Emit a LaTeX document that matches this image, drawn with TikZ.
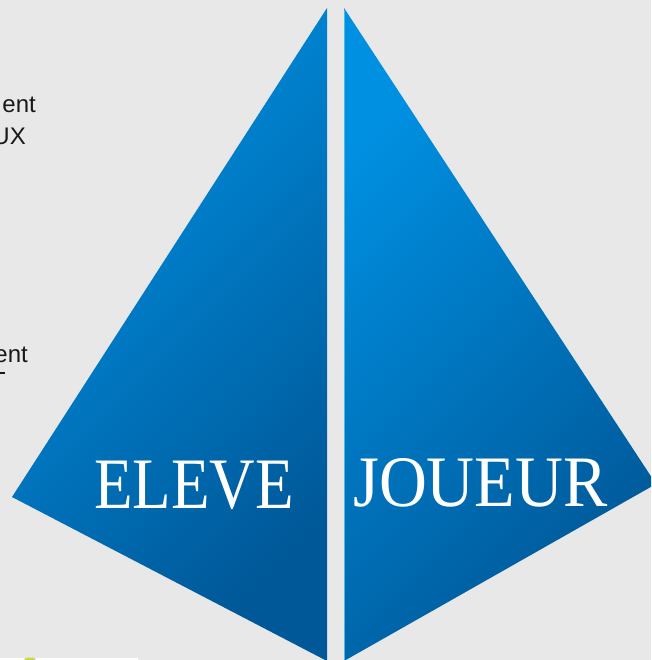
\documentclass[tikz,border=0pt]{standalone}
\usepackage{fontspec}
\setmainfont{Liberation Serif}
\newfontfamily\sansfnt{Liberation Sans}
\definecolor{bgcol}{RGB}{232,232,232}
\definecolor{triTop}{RGB}{0,144,226}
\definecolor{triBot}{RGB}{0,88,152}
\definecolor{edgecyan}{RGB}{70,190,225}
\definecolor{blobcol}{RGB}{200,220,60}
\definecolor{txtcol}{RGB}{25,25,25}
\tikzset{
  tri/.style={top color=triTop, bottom color=triBot, shading angle=45},
  bigword/.style={text=white, inner sep=0pt, font=\fontsize{72.5}{80}\selectfont},
  sidetxt/.style={text=txtcol, inner sep=0pt, font=\sansfnt\fontsize{24}{28}\selectfont},
}
\begin{document}
\begin{tikzpicture}[x=1pt,y=-1pt]
\useasboundingbox (0,0) rectangle (651,660);
\clip (0,0) rectangle (651,660);
\fill[bgcol] (0,0) rectangle (651,660);
% side texts (cut at the left edge, as in the reference)
\node[sidetxt, anchor=base east] (t1) at (36,113) {ent};
\node[sidetxt, anchor=base east] (t2) at (26,145) {UX};
\node[sidetxt, anchor=base east] (t3) at (28,362) {ent};
\fill[txtcol] (0,372) rectangle (5,374);
% triangles
\shade[tri] (327,8) -- (12,497) -- (327,661) -- cycle;
\shade[tri] (344,8) -- (656,484) -- (344,661) -- cycle;
\draw[edgecyan, line width=1pt] (344.5,10) -- (344.5,660);
% labels
\node[bigword, anchor=base west] (eleve) at (94,508) {\scalebox{0.87}[1]{ELEVE}};
\node[bigword, anchor=base west] (joueur) at (353,506) {\scalebox{0.915}[1]{JOUEUR}};
% bottom-left strip
\fill[white] (0,658) rectangle (138,660);
\fill[blobcol] (30,659) ellipse (6 and 1.5);
\end{tikzpicture}
\end{document}
